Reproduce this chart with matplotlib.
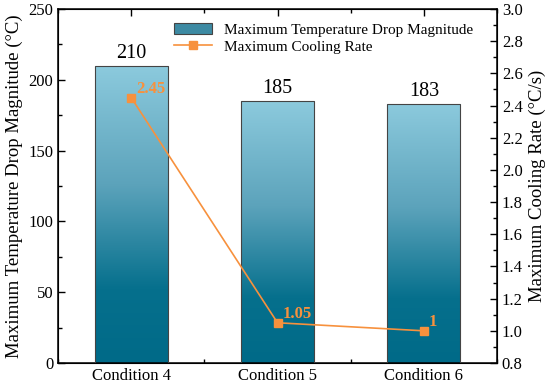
import numpy as np
import matplotlib
matplotlib.use('Agg')
import matplotlib.pyplot as plt
from matplotlib.colors import LinearSegmentedColormap
from matplotlib.ticker import MultipleLocator
from matplotlib.patches import Patch
from matplotlib.lines import Line2D

conditions = ['Condition 4', 'Condition 5', 'Condition 6']
temp_drop = [210, 185, 183]
cooling_rate = [2.45, 1.05, 1.0]
rate_labels = ['2.45', '1.05', '1']

plt.rcParams['font.family'] = ['Liberation Serif', 'DejaVu Serif']

orange = '#f7913d'
cmap = LinearSegmentedColormap.from_list(
    'bar', [(0, '#006a88'), (0.25, '#06708d'), (0.6, '#5ca3bb'), (1.0, '#8ccadd')])

fig = plt.figure(figsize=(5.5, 3.88), dpi=100)
ax = fig.add_axes([58/550, 1 - 363/388, (497-58)/550, (363-9)/388])
x = np.arange(len(conditions))
width = 0.5

ax.set_xlim(-0.5, 2.5)
ax.set_ylim(0, 250)

bars = ax.bar(x, temp_drop, width, facecolor='none', edgecolor='#444444', lw=0.8, zorder=3)
grad = np.linspace(0, 1, 256).reshape(-1, 1)
for b in bars:
    x0, y0 = b.get_x(), b.get_y()
    w, h = b.get_width(), b.get_height()
    im = ax.imshow(grad, cmap=cmap, origin='lower', aspect='auto',
                   extent=[x0, x0 + w, y0, y0 + h], zorder=2, vmin=0, vmax=1)
    im.set_clip_path(b)
for xi, v in zip(x, temp_drop):
    ax.text(xi, v + 2, str(v), ha='center', va='bottom', fontsize=14.5)

ax.set_xticks(x)
ax.set_xticklabels(conditions, fontsize=12)
ax.xaxis.set_minor_locator(MultipleLocator(0.5))
ax.yaxis.set_major_locator(MultipleLocator(50))
ax.yaxis.set_minor_locator(MultipleLocator(25))
ax.set_ylabel('Maximum Temperature Drop Magnitude (°C)', fontsize=13.5, labelpad=4)
ax.tick_params(which='both', direction='in', top=True, labelsize=12, width=1)
ax.tick_params(which='major', length=5)
ax.tick_params(which='minor', length=3)
for s in ax.spines.values():
    s.set_linewidth(1.1)

ax2 = ax.twinx()
ax2.set_ylim(0.8, 3.0)
ax2.plot(x, cooling_rate, color=orange, lw=1.2, marker='s', ms=5.5, zorder=5)
for xi, v, t in zip(x, cooling_rate, rate_labels):
    ax2.text(xi + 0.035, v + 0.005, t, color=orange, fontsize=12, fontweight='bold',
             ha='left', va='bottom')
ax2.yaxis.set_major_locator(MultipleLocator(0.2))
ax2.yaxis.set_minor_locator(MultipleLocator(0.1))
ax2.yaxis.set_major_formatter(matplotlib.ticker.FormatStrFormatter('%.1f'))
ax2.tick_params(which='both', direction='in', labelsize=12, width=1)
ax2.tick_params(which='major', length=5)
ax2.tick_params(which='minor', length=3)
ax2.set_ylabel('Maximum Cooling Rate (°C/s)', fontsize=13.5, labelpad=4)

handles = [Patch(facecolor='#3d8aa3', edgecolor='#444444', lw=0.8),
           Line2D([0], [0], color=orange, marker='s', ms=5.5, lw=1.2)]
ax.legend(handles, ['Maximum Temperature Drop Magnitude', 'Maximum Cooling Rate'],
          loc='upper right', bbox_to_anchor=(0.97, 0.99), frameon=False,
          fontsize=11, handlelength=2.5, borderaxespad=0.3, labelspacing=0.2)

fig.savefig('out.png', dpi=100)
